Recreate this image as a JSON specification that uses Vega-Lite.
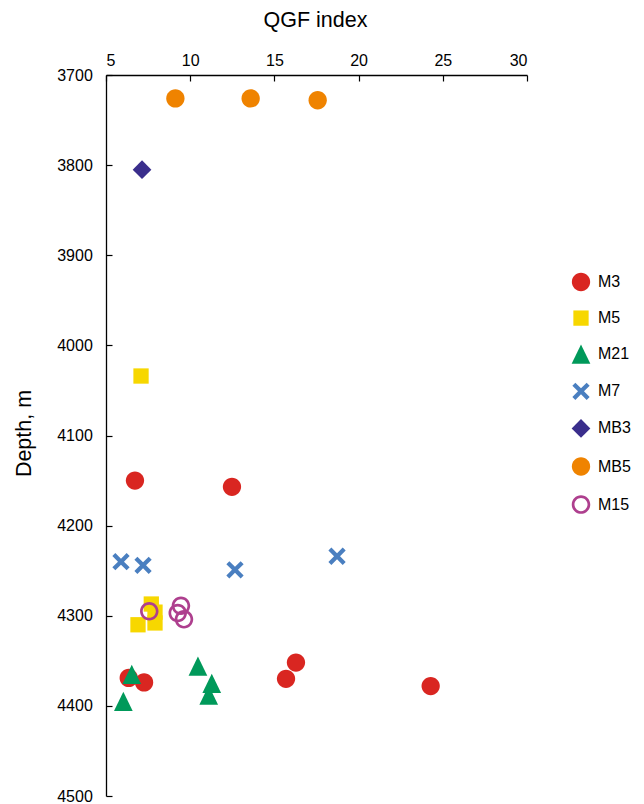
{
  "$schema": "https://vega.github.io/schema/vega-lite/v6.json",
  "autosize": "none",
  "padding": {"left": 106, "top": 75, "right": 117, "bottom": 8},
  "width": 421,
  "height": 721,
  "background": "white",
  "config": {
    "view": {"stroke": null},
    "font": "Liberation Sans"
  },
  "data": {
    "values": [
      {"series": "M3", "qgf": 6.72, "depth": 4150},
      {"series": "M3", "qgf": 12.48, "depth": 4157},
      {"series": "M3", "qgf": 6.35, "depth": 4369},
      {"series": "M3", "qgf": 7.26, "depth": 4374},
      {"series": "M3", "qgf": 15.69, "depth": 4370},
      {"series": "M3", "qgf": 16.28, "depth": 4352},
      {"series": "M3", "qgf": 24.28, "depth": 4378},
      {"series": "M5", "qgf": 7.08, "depth": 4034},
      {"series": "M5", "qgf": 6.90, "depth": 4310},
      {"series": "M5", "qgf": 7.69, "depth": 4287},
      {"series": "M5", "qgf": 7.91, "depth": 4296},
      {"series": "M5", "qgf": 7.91, "depth": 4308},
      {"series": "M21", "qgf": 6.53, "depth": 4365},
      {"series": "M21", "qgf": 6.03, "depth": 4395},
      {"series": "M21", "qgf": 10.46, "depth": 4356},
      {"series": "M21", "qgf": 11.28, "depth": 4375},
      {"series": "M21", "qgf": 11.10, "depth": 4388},
      {"series": "M7", "qgf": 5.89, "depth": 4240},
      {"series": "M7", "qgf": 7.2, "depth": 4244},
      {"series": "M7", "qgf": 12.66, "depth": 4249},
      {"series": "M7", "qgf": 18.72, "depth": 4234},
      {"series": "MB3", "qgf": 7.14, "depth": 3805},
      {"series": "MB5", "qgf": 9.12, "depth": 3726},
      {"series": "MB5", "qgf": 13.59, "depth": 3726},
      {"series": "MB5", "qgf": 17.57, "depth": 3728},
      {"series": "M15", "qgf": 7.57, "depth": 4295},
      {"series": "M15", "qgf": 9.45, "depth": 4289},
      {"series": "M15", "qgf": 9.26, "depth": 4297},
      {"series": "M15", "qgf": 9.63, "depth": 4304}
    ]
  },
  "mark": {"type": "point", "filled": true, "opacity": 1, "size": 400},
  "encoding": {
    "x": {
      "field": "qgf", "type": "quantitative",
      "scale": {"domain": [5, 30], "nice": false, "zero": false},
      "axis": {
        "orient": "top", "title": "QGF index", "values": [5, 10, 15, 20, 25, 30],
        "grid": false, "tickSize": -6, "tickColor": "black", "tickWidth": 1.2,
        "domainColor": "black", "domainWidth": 1.3,
        "labelFontSize": 16, "labelColor": "black", "labelBaseline": "alphabetic",
        "labelPadding": 15.7, "labelFont": "Liberation Sans",
        "titleFontSize": 21.5, "titleFontWeight": "normal", "titleColor": "black",
        "titleFont": "Liberation Sans", "titleBaseline": "alphabetic",
        "titleX": 209, "titleY": -48.3
      }
    },
    "y": {
      "field": "depth", "type": "quantitative",
      "scale": {"domain": [3700, 4500], "reverse": true, "nice": false, "zero": false},
      "axis": {
        "orient": "left", "title": "Depth, m", "format": "d",
        "values": [3700, 3800, 3900, 4000, 4100, 4200, 4300, 4400, 4500],
        "grid": false, "tickSize": -6, "tickColor": "black", "tickWidth": 1.2,
        "domainColor": "black", "domainWidth": 1.3,
        "labelFontSize": 16, "labelColor": "black", "labelPadding": 19.7,
        "labelFont": "Liberation Sans", "labelFlush": false, "labelOverlap": false,
        "titleFontSize": 21.5, "titleFontWeight": "normal", "titleColor": "black",
        "titleFont": "Liberation Sans", "titleBaseline": "alphabetic", "titleAngle": -90,
        "titleX": -75.3, "titleY": 358
      }
    },
    "color": {
      "field": "series", "type": "nominal",
      "scale": {
        "domain": ["M3", "M5", "M21", "M7", "MB3", "MB5", "M15"],
        "range": ["#d92621", "#f7d700", "#00995a", "#4a7fc0", "#3a2e8c", "#ef8300", "#ae3f8e"]
      },
      "legend": {
        "title": null, "orient": "none", "legendX": 464, "legendY": 196,
        "labelFontSize": 16, "labelColor": "black", "labelFont": "Liberation Sans",
        "labelOffset": 6, "rowPadding": 12.1, "symbolOpacity": 1, "symbolSize": 400
      }
    },
    "shape": {
      "field": "series", "type": "nominal",
      "scale": {
        "domain": ["M3", "M5", "M21", "M7", "MB3", "MB5", "M15"],
        "range": [
          "M-0.915,0A0.915,0.915,0,1,0,0.915,0A0.915,0.915,0,1,0,-0.915,0Z",
          "M-0.765,-0.765L0.765,-0.765L0.765,0.765L-0.765,0.765Z",
          "M0,-0.965L0.935,0.965L-0.935,0.965Z",
          "M0,-0.3L0.565,-0.865L0.865,-0.565L0.3,0L0.865,0.565L0.565,0.865L0,0.3L-0.565,0.865L-0.865,0.565L-0.3,0L-0.865,-0.565L-0.565,-0.865Z",
          "M0,-0.935L0.935,0L0,0.935L-0.935,0Z",
          "M-0.915,0A0.915,0.915,0,1,0,0.915,0A0.915,0.915,0,1,0,-0.915,0Z",
          "M-0.925,0A0.925,0.925,0,1,0,0.925,0A0.925,0.925,0,1,0,-0.925,0ZM-0.655,0A0.655,0.655,0,1,1,0.655,0A0.655,0.655,0,1,1,-0.655,0Z"
        ]
      }
    }
  }
}
